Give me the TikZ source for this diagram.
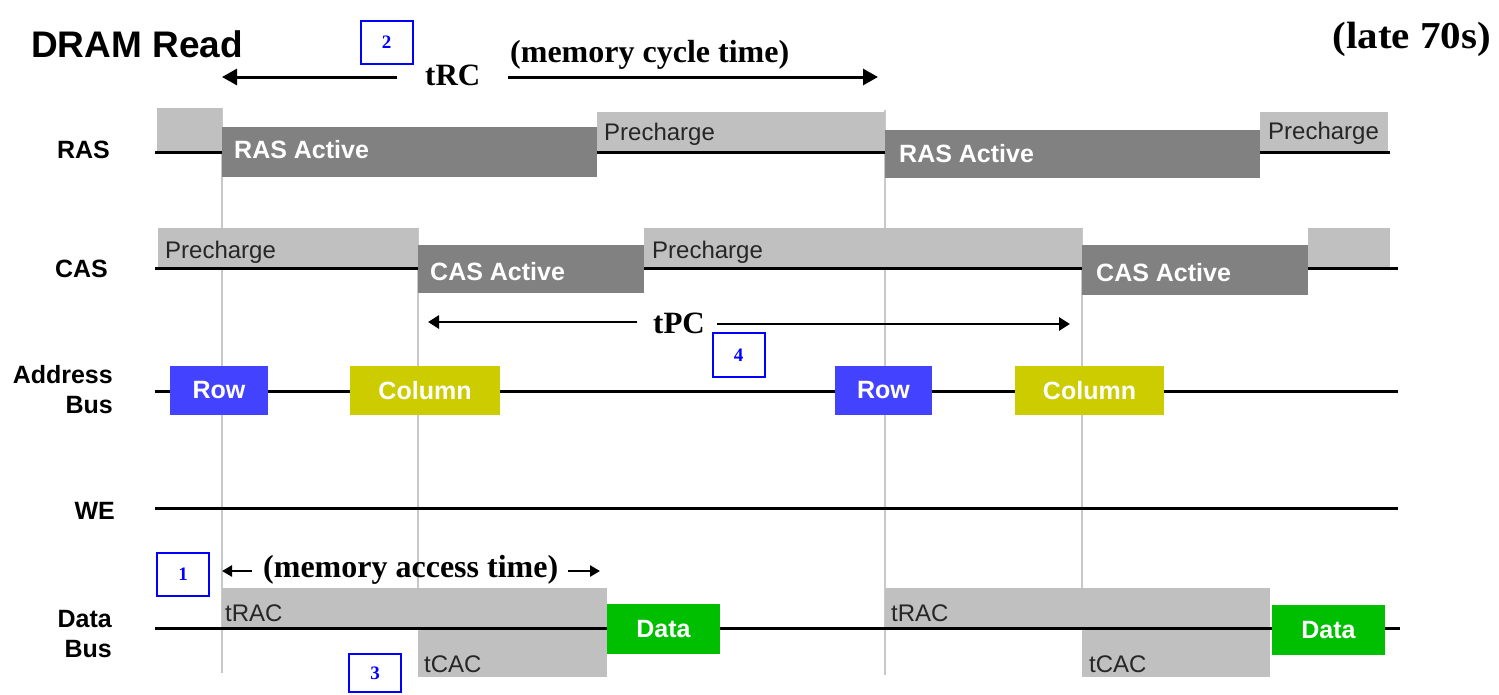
\documentclass[tikz,border=0pt]{standalone}
\usepackage{fontspec}
\setmainfont{Liberation Serif}
\newfontfamily\arialf{Liberation Sans}
\newfontfamily\timeswide[FakeStretch=1.08]{Liberation Serif}
\usetikzlibrary{arrows.meta}
\definecolor{prech}{HTML}{C0C0C0}
\definecolor{activeg}{HTML}{818181}
\definecolor{rowblue}{HTML}{4343FF}
\definecolor{colyel}{HTML}{CCCC00}
\definecolor{datagreen}{HTML}{00BF00}
\definecolor{guidec}{HTML}{C8C8C8}
\definecolor{boxblue}{HTML}{0000FF}
\begin{document}
\begin{tikzpicture}[x=1pt,y=-1pt,
  sig/.style={line width=3pt, black},
  guideline/.style={line width=1.5pt, guidec},
  lbl/.style={anchor=base east, inner sep=0pt, font=\arialf\bfseries\fontsize{25}{27}\selectfont},
  wtxt/.style={inner sep=0pt, text=white, font=\arialf\bfseries\fontsize{25}{27}\selectfont},
  gtxt/.style={anchor=base west, inner sep=0pt, text=black!85, font=\arialf\fontsize{24}{26}\selectfont},
  tb/.style={inner sep=0pt, anchor=base west, font=\bfseries\fontsize{32}{34}\selectfont},
  numbox/.style={draw=boxblue, line width=2pt, minimum width=52pt, minimum height=43pt, inner sep=0pt, text=boxblue, font=\bfseries\fontsize{19}{21}\selectfont},
  sigbox/.style={minimum height=49pt, inner sep=0pt, text=white, font=\arialf\bfseries\fontsize{25}{27}\selectfont},
  bigarrow/.style={line width=3pt, -{Triangle[length=15pt,width=16pt]}},
  midarrow/.style={line width=2.8pt, -{Triangle[length=11pt,width=13pt]}},
  smallarrow/.style={line width=2.5pt, -{Triangle[length=10pt,width=11pt]}},
]
\useasboundingbox[fill=white] (0,0) rectangle (1499,694);

% guide lines
\draw[guideline] (222,108) -- (222,673);
\draw[guideline] (885,110) -- (885,675);
\draw[guideline] (418,228) -- (418,628);
\draw[guideline] (1082,228) -- (1082,628);

% precharge / timing boxes (behind signal lines)
\fill[prech] (157,108) rectangle (222,152);
\fill[prech] (597,112) rectangle (885,152);
\fill[prech] (1260,112) rectangle (1388,152);
\fill[prech] (158,228) rectangle (418,268);
\fill[prech] (644,228) rectangle (1082,268);
\fill[prech] (1308,228) rectangle (1390,268);
\fill[prech] (222,588) rectangle (607,628);
\fill[prech] (418,628) rectangle (607,677);
\fill[prech] (885,588) rectangle (1270,628);
\fill[prech] (1082,628) rectangle (1270,677);

% signal lines
\draw[sig] (155,152) -- (1390,152);
\draw[sig] (155,268) -- (1398,268);
\draw[sig] (155,391) -- (1398,391);
\draw[sig] (155,508) -- (1398,508);
\draw[sig] (155,628) -- (1400,628);

% active boxes
\fill[activeg] (222,127) rectangle (597,177);
\fill[activeg] (885,130) rectangle (1260,178);
\fill[activeg] (418,245) rectangle (644,293);
\fill[activeg] (1082,245) rectangle (1308,295);

% address / data boxes
\node[sigbox, fill=rowblue, minimum width=98pt] (row1) at (219,390.5) {Row};
\node[sigbox, fill=colyel, minimum width=150pt] (col1) at (425,390.5) {Column};
\node[sigbox, fill=rowblue, minimum width=97pt] (row2) at (883.5,390.5) {Row};
\node[sigbox, fill=colyel, minimum width=149pt] (col2) at (1089.5,390.5) {Column};
\node[sigbox, fill=datagreen, minimum width=113pt, minimum height=50pt] (data1) at (663.5,629) {Data};
\node[sigbox, fill=datagreen, minimum width=113pt, minimum height=50pt] (data2) at (1328.5,630) {Data};

% texts in boxes
\node[wtxt, anchor=base west] (rasa1) at (234,158) {RAS Active};
\node[wtxt, anchor=base west] (rasa2) at (899,162) {RAS Active};
\node[wtxt, anchor=base west] (casa1) at (430,280) {CAS Active};
\node[wtxt, anchor=base west] (casa2) at (1096,281) {CAS Active};
\node[gtxt] (pre1) at (604,140) {Precharge};
\node[gtxt] (pre2) at (1268,139) {Precharge};
\node[gtxt] (pre3) at (165,258) {Precharge};
\node[gtxt] (pre4) at (652,258) {Precharge};
\node[gtxt] (trac1) at (225,621) {tRAC};
\node[gtxt] (tcac1) at (424,672) {tCAC};
\node[gtxt] (trac2) at (891,621) {tRAC};
\node[gtxt] (tcac2) at (1089,672) {tCAC};

% row labels
\node[lbl] (lras) at (110,158) {RAS};
\node[lbl] (lcas) at (108,277) {CAS};
\node[lbl] (laddr) at (113,383) {Address};
\node[lbl] (laddrb) at (113,413) {Bus};
\node[lbl] (lwe) at (115,519) {WE};
\node[lbl] (ldata) at (112,627) {Data};
\node[lbl] (ldatab) at (112,657) {Bus};

% titles
\node[anchor=base west, inner sep=0pt, font=\arialf\bfseries\fontsize{37}{40}\selectfont] (title) at (31,57) {DRAM Read};
\node[anchor=base east, inner sep=0pt, font=\timeswide\bfseries\fontsize{38}{40}\selectfont] (era) at (1491,48) {(late 70s)};

% timing annotations
\node[tb, font=\bfseries\fontsize{31}{33}\selectfont] (trc) at (425,85) {tRC};
\node[tb] (cyc) at (510,62) {(memory cycle time)};
\node[tb, font=\bfseries\fontsize{31}{33}\selectfont] (tpc) at (653,333) {tPC};
\node[tb] (acc) at (263,577) {(memory access time)};

\coordinate (trcS1) at (397,77);
\coordinate (trcE1) at (222,77);
\coordinate (trcS2) at (508,77);
\coordinate (trcE2) at (878,77);
\draw[bigarrow] (trcS1) -- (trcE1);
\draw[bigarrow] (trcS2) -- (trcE2);

\coordinate (tpcS1) at (637,322);
\coordinate (tpcE1) at (428,322);
\coordinate (tpcS2) at (717,324);
\coordinate (tpcE2) at (1070,324);
\draw[midarrow] (tpcS1) -- (tpcE1);
\draw[midarrow] (tpcS2) -- (tpcE2);

\coordinate (accS1) at (252,571);
\coordinate (accE1) at (222,571);
\coordinate (accS2) at (568,571);
\coordinate (accE2) at (600,571);
\draw[smallarrow] (accS1) -- (accE1);
\draw[smallarrow] (accS2) -- (accE2);

% numbered boxes
\node[numbox] (n1) at (183,574.5) {1};
\node[numbox] (n2) at (386.5,42.5) {2};
\node[numbox, minimum height=38pt] (n3) at (375,673) {3};
\node[numbox, minimum height=44pt] (n4) at (738.5,355) {4};
\end{tikzpicture}
\end{document}
